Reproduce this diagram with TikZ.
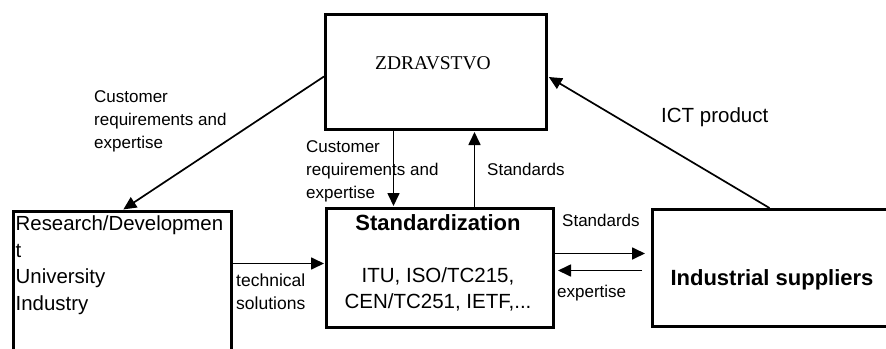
\documentclass[tikz,border=0pt]{standalone}
\usepackage{fontspec}
\setmainfont{Liberation Sans}
\newfontfamily\serifz{Liberation Serif}
\usetikzlibrary{arrows.meta}
\begin{document}
\begin{tikzpicture}[x=1pt,y=-1pt,
  box/.style={draw, line width=3pt, inner sep=0pt, anchor=north west},
  arr/.style={line width=1.7pt, -{Triangle[length=13pt,width=12pt]}},
  lbl/.style={inner sep=0pt, align=left},
  small/.style={font=\fontsize{17}{22.8}\selectfont}]
\useasboundingbox (0,0) rectangle (886,348);
\clip (0,0) rectangle (886,348);
% boxes
\node[box, minimum width=221pt, minimum height=115pt] (zd) at (324,13) {};
\node[box, minimum width=227pt, minimum height=119pt] (std) at (325,207) {};
\node[box, minimum width=218pt, minimum height=190pt] (res) at (12,210) {};
\node[box, minimum width=269pt, minimum height=117pt] (ind) at (651,208) {};
% box texts
\node[inner sep=0pt, anchor=base, font=\serifz\fontsize{19.5}{23}\selectfont] (zdt) at (433,69) {ZDRAVSTVO};
\node[inner sep=0pt, anchor=base, font=\bfseries\fontsize{22}{26}\selectfont] (stdt) at (438,230) {Standardization};
\node[inner sep=0pt, anchor=north, align=center, font=\fontsize{20.5}{26}\selectfont] (stdb) at (438,267) {ITU, ISO/TC215,\\CEN/TC251, IETF,...};
\node[inner sep=0pt, anchor=base, font=\bfseries\fontsize{22}{26}\selectfont] (indt) at (772,285) {Industrial suppliers};
\node[lbl, anchor=north west, font=\fontsize{20.4}{26.5}\selectfont] (rest) at (15.5,216) {Research/Developmen\\t\\University\\Industry};
% labels
\node[lbl, small, anchor=north west] (l1) at (94,90.5) {Customer\\requirements and\\expertise};
\node[lbl, anchor=north west, font=\fontsize{17}{23}\selectfont] (l2) at (306,140.5) {Customer\\requirements and\\expertise};
\node[lbl, small, anchor=base west] (l3) at (487,175) {Standards};
\node[lbl, anchor=base west, font=\fontsize{20.5}{24}\selectfont] (l4) at (661,122) {ICT product};
\node[lbl, small, anchor=base west] (l5) at (562,226) {Standards};
\node[lbl, small, anchor=base west] (l6) at (557,297) {expertise};
\node[lbl, anchor=north west, font=\fontsize{17.5}{23}\selectfont] (l7) at (236,274) {technical\\solutions};
% connectors
\draw[arr, shorten >=1pt] ([yshift=-4.5pt]zd.west) -- (res.north);
\draw[arr, shorten >=1pt] ([xshift=-42.5pt]zd.south) -- ([xshift=-42.5pt]zd.south |- std.north);
\coordinate (upx) at ([xshift=38.5pt]zd.south);
\draw[arr, shorten >=1pt] (std.north -| upx) -- (upx);
\draw[arr, shorten >=1pt] ([xshift=-17.5pt]ind.north) -- ([yshift=-4.5pt]zd.east);
\coordinate (ts) at ([yshift=4.5pt]std.west);
\draw[arr, shorten >=1pt] (res.east |- ts) -- (ts);
\coordinate (sa) at ([yshift=14.5pt]std.east);
\draw[arr, shorten >=6pt] (sa) -- (ind.west |- sa);
\coordinate (ea) at ([yshift=-2.5pt]std.east);
\draw[arr, shorten <=9pt, shorten >=3pt] (ind.west |- ea) -- (ea);
\end{tikzpicture}
\end{document}
